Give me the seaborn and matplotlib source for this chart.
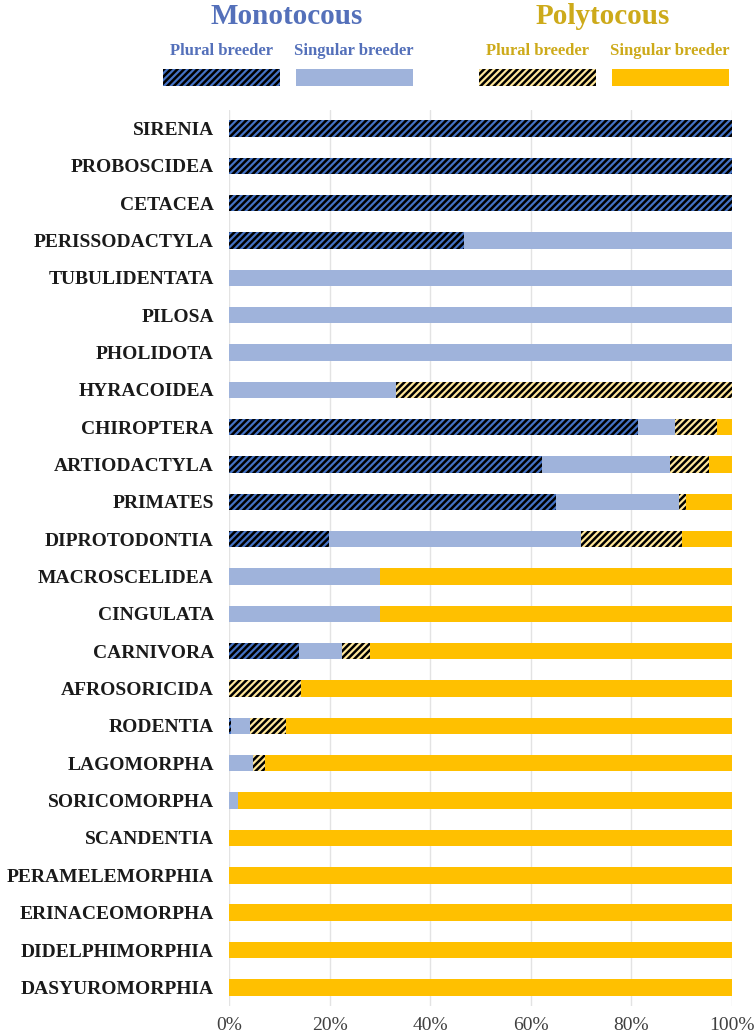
import numpy as np
import pandas as pd
import seaborn as sns
import matplotlib.pyplot as plt
from matplotlib.patches import Rectangle
from matplotlib.ticker import PercentFormatter

orders = ["SIRENIA", "PROBOSCIDEA", "CETACEA", "PERISSODACTYLA", "TUBULIDENTATA",
          "PILOSA", "PHOLIDOTA", "HYRACOIDEA", "CHIROPTERA", "ARTIODACTYLA",
          "PRIMATES", "DIPROTODONTIA", "MACROSCELIDEA", "CINGULATA", "CARNIVORA",
          "AFROSORICIDA", "RODENTIA", "LAGOMORPHA", "SORICOMORPHA", "SCANDENTIA",
          "PERAMELEMORPHIA", "ERINACEOMORPHA", "DIDELPHIMORPHIA", "DASYUROMORPHIA"]

# percent of species in each group
mono_plural = [100, 100, 100, 46.7, 0, 0, 0, 0, 81.3, 62.3, 65.1, 19.8,
               0, 0, 14.0, 0, 0.4, 0, 0, 0, 0, 0, 0, 0]
mono_singular = [0, 0, 0, 53.3, 100, 100, 100, 33.3, 7.4, 25.5, 24.4, 50.2,
                 30.0, 30.0, 8.5, 0, 3.8, 4.8, 1.7, 0, 0, 0, 0, 0]
poly_plural = [0, 0, 0, 0, 0, 0, 0, 66.7, 8.4, 7.7, 1.3, 20.0,
               0, 0, 5.5, 14.3, 7.1, 2.4, 0, 0, 0, 0, 0, 0]
poly_singular = [0, 0, 0, 0, 0, 0, 0, 0, 2.9, 4.5, 9.2, 10.0,
                 70.0, 70.0, 72.0, 85.7, 88.7, 92.8, 98.3, 100, 100, 100, 100, 100]

groups = ["mono_plural", "mono_singular", "poly_plural", "poly_singular"]
colors = {"mono_plural": "#4472C4", "mono_singular": "#9FB3DB",
          "poly_plural": "#FFE699", "poly_singular": "#FFC000"}
hatched = {"mono_plural": True, "mono_singular": False,
           "poly_plural": True, "poly_singular": False}
HATCH = "/////"

df = pd.DataFrame({"order": orders, "mono_plural": mono_plural,
                   "mono_singular": mono_singular, "poly_plural": poly_plural,
                   "poly_singular": poly_singular})
cum = df[groups].cumsum(axis=1)
cum["order"] = df["order"]

sns.set_style("white")
plt.rcParams['font.family'] = ['Liberation Serif', 'DejaVu Serif']
plt.rcParams['hatch.linewidth'] = 1.8

fig = plt.figure(figsize=(7.56, 10.35), dpi=100)
ax = fig.add_axes([0.303, 0.028, 0.665, 0.866])

# stacked bars: draw the cumulative totals from the widest to the narrowest
for g in reversed(groups):
    sns.barplot(data=cum, y="order", x=g, orient="h", color=colors[g],
                width=0.44, saturation=1, ax=ax,
                edgecolor="black" if hatched[g] else colors[g], linewidth=0)
    if hatched[g]:
        for p in ax.containers[-1]:
            p.set_hatch(HATCH)

ax.set_xlim(0, 100)
ax.set_ylim(len(orders) - 0.5, -0.5)
ax.xaxis.set_major_formatter(PercentFormatter(decimals=0))
ax.set_xticks(np.arange(0, 101, 20))
ax.grid(axis="x", color="#E3E3E3", linewidth=1)
ax.set_axisbelow(True)
for s in ax.spines.values():
    s.set_visible(False)
ax.set_xlabel("")
ax.set_ylabel("")
ax.tick_params(axis="x", labelsize=14, colors="#404040", length=0, pad=8)
ax.tick_params(axis="y", labelsize=14, length=0, pad=11)
for lab in ax.get_yticklabels():
    lab.set_fontweight("bold")
    lab.set_color("#1a1a1a")

# custom legend
W, H = 756, 1035
blue_txt = "#5470BA"
gold_txt = "#CDAA1A"
fig.text(287 / W, 1 - 17 / H, "Monotocous", ha="center", va="center",
         fontsize=21, fontweight="bold", color=blue_txt)
fig.text(603 / W, 1 - 17 / H, "Polytocous", ha="center", va="center",
         fontsize=21, fontweight="bold", color=gold_txt)
legend_items = [
    (163, "Plural breeder", "mono_plural", blue_txt),
    (296, "Singular breeder", "mono_singular", blue_txt),
    (479, "Plural breeder", "poly_plural", gold_txt),
    (612, "Singular breeder", "poly_singular", gold_txt),
]
for x0, label, g, tc in legend_items:
    fig.text((x0 + 58) / W, 1 - 51 / H, label, ha="center", va="center",
             fontsize=12, fontweight="bold", color=tc)
    r = Rectangle((x0 / W, 1 - 86 / H), 117 / W, 17 / H, transform=fig.transFigure,
                  facecolor=colors[g], edgecolor="black" if hatched[g] else colors[g],
                  linewidth=0, hatch=HATCH if hatched[g] else None)
    fig.add_artist(r)

fig.savefig("out.png", dpi=100)
